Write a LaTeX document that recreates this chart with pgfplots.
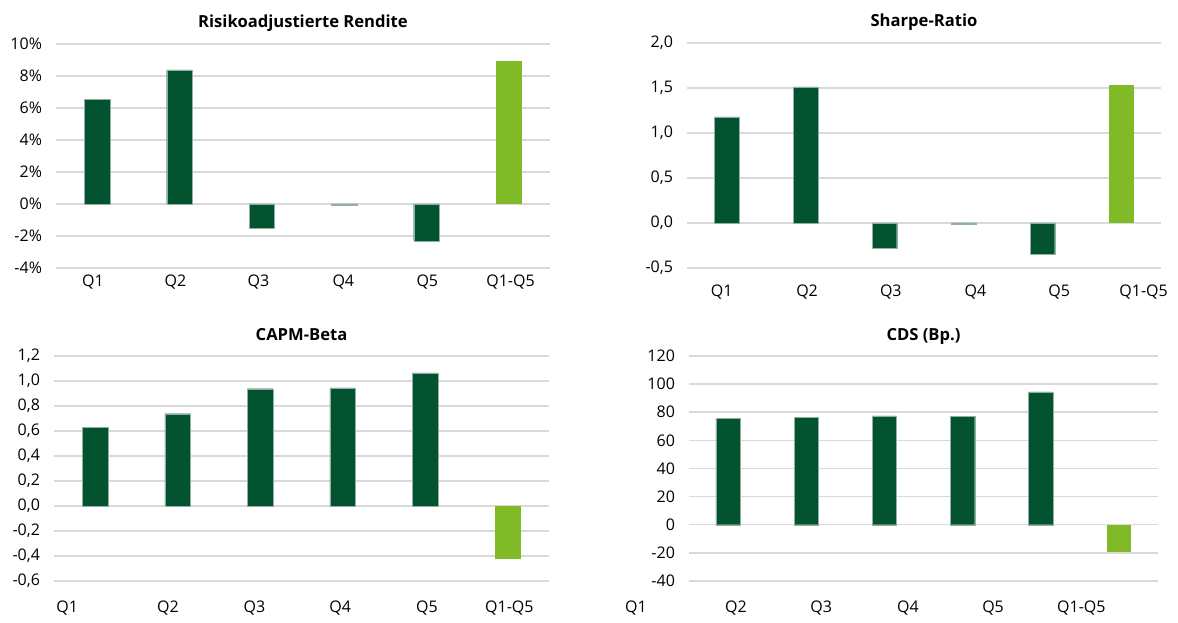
\documentclass[border=0pt]{standalone}
\usepackage{fontspec}
\setmainfont{Open Sans}
\usepackage{pgfplots}
\pgfplotsset{compat=1.18}
\definecolor{dg}{RGB}{3,82,48}
\definecolor{lg}{RGB}{128,186,39}
\definecolor{gridc}{RGB}{217,217,217}
\pgfplotsset{
 panel/.style={
  scale only axis, anchor=south west,
  xmin=-0.5, xmax=5.5,
  axis line style={draw=none}, tick style={draw=none},
  ymajorgrids, grid style={gridc, line width=0.75pt},
  font=\fontsize{8}{9.6}\selectfont,
  every axis title/.style={font=\fontsize{8.3}{9.6}\selectfont\bfseries, at={(0.5,1)}, anchor=base, yshift=8pt},
  yticklabel style={xshift=-3.5pt},
  /pgf/number format/assume math mode=true,
  clip=false,
 },
 dgbar/.style={ybar, bar width=0.31, bar shift=0pt, fill=dg, draw=dg!45!white, line width=0.2pt},
 lgbar/.style={ybar, bar width=0.31, bar shift=0pt, fill=lg, draw=none},
}
\begin{document}
\begin{tikzpicture}
\path (0,0) rectangle (589pt,309.5pt);
% Panel 1
\begin{axis}[panel, at={(28pt,175.5pt)}, width=247pt, height=112pt,
  ymin=-4, ymax=10, ytick={-4,-2,0,2,4,6,8,10},
  yticklabels={-4\%,-2\%,0\%,2\%,4\%,6\%,8\%,10\%},
  xtick={-0.05,0.95,1.96,2.99,4.01,5.02},
  xticklabels={Q1,Q2,Q3,Q4,Q5,Q1-Q5},
  xticklabel style={yshift=0pt},
  title={Risikoadjustierte Rendite}]
\addplot[dgbar] coordinates {(0,6.52) (1,8.38) (2,-1.5) (3,-0.08) (4,-2.3)};
\addplot[lgbar] coordinates {(5,8.95)};
\end{axis}
% Panel 2
\begin{axis}[panel, at={(343.5pt,175.5pt)}, width=237pt, height=112.5pt,
  ymin=-0.5, ymax=2, ytick={-0.5,0,0.5,1,1.5,2},
  yticklabels={{-0,5},{0,0},{0,5},{1,0},{1,5},{2,0}},
  xtick={-0.06,1.02,2.08,3.15,4.21,5.28},
  xticklabels={Q1,Q2,Q3,Q4,Q5,Q1-Q5},
  xticklabel style={yshift=-5pt},
  title={Sharpe-Ratio}]
\addplot[dgbar] coordinates {(0,1.178) (1,1.511) (2,-0.281) (3,-0.019) (4,-0.348)};
\addplot[lgbar] coordinates {(5,1.537)};
\end{axis}
% Panel 3
\begin{axis}[panel, at={(27pt,19pt)}, width=247.5pt, height=112.5pt,
  ymin=-0.6, ymax=1.2, ytick={-0.6,-0.4,-0.2,0,0.2,0.4,0.6,0.8,1,1.2},
  yticklabels={{-0,6},{-0,4},{-0,2},{0,0},{0,2},{0,4},{0,6},{0,8},{1,0},{1,2}},
  xtick={-0.34,0.88,1.93,2.97,4.02,5.02},
  xticklabels={Q1,Q2,Q3,Q4,Q5,Q1-Q5},
  xticklabel style={yshift=-6.5pt},
  title style={yshift=-0.5pt},
  title={CAPM-Beta}]
\addplot[dgbar] coordinates {(0,0.628) (1,0.738) (2,0.938) (3,0.944) (4,1.064)};
\addplot[lgbar] coordinates {(5,-0.428)};
\end{axis}
% Panel 4
\begin{axis}[panel, at={(344.5pt,19pt)}, width=234.5pt, height=112.5pt,
  ymin=-40, ymax=120, ytick={-40,-20,0,20,40,60,80,100,120},
  yticklabels={-40,-20,0,20,40,60,80,100,120},
  xtick={0.1,1.19,2.3,3.39,4.52},
  xticklabels={Q2,Q3,Q4,Q5,Q1-Q5},
  xticklabel style={yshift=-6.5pt},
  title style={yshift=-0.5pt},
  title={CDS (Bp.)}]
\addplot[dgbar] coordinates {(0,75.5) (1,76.4) (2,77.4) (3,76.9) (4,94.5)};
\addplot[lgbar] coordinates {(5,-19.5)};
\node[anchor=north, yshift=-6.5pt, inner sep=0.3333em] at (axis cs:-1.18,-40) {Q1};
\end{axis}
\end{tikzpicture}
\end{document}
